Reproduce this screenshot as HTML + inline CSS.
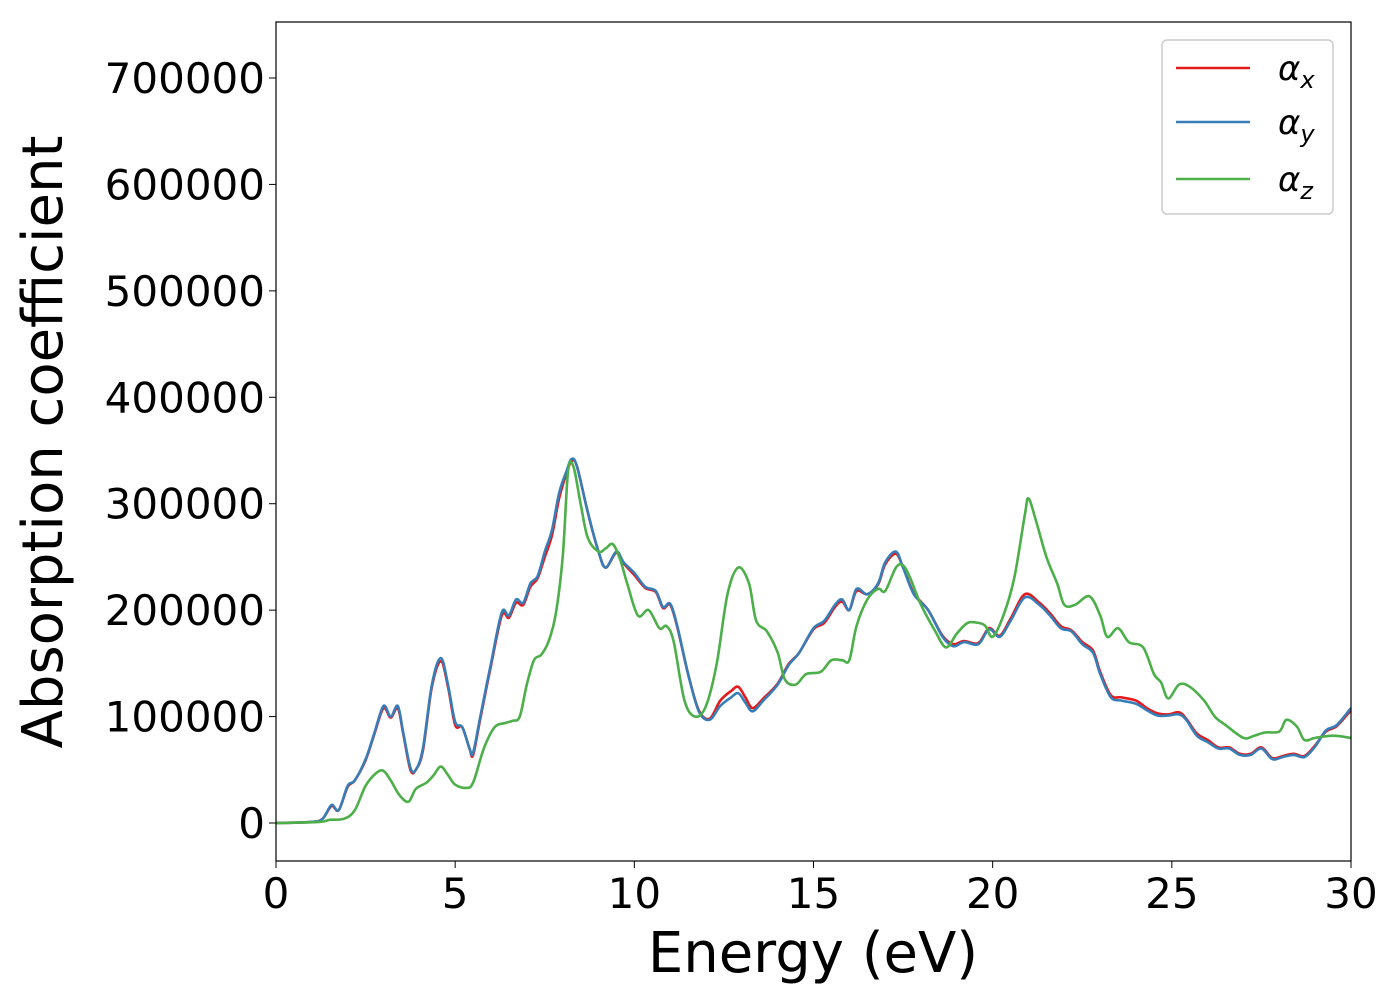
<!DOCTYPE html>
<html><head><meta charset="utf-8"><style>
body{margin:0;background:#fff}
svg text{font-family:"DejaVu Sans","Liberation Sans",sans-serif;fill:#000}
</style></head><body>
<svg width="1400" height="1000" id="chart">
<rect width="1400" height="1000" fill="#fff"/>
<g id="plot"></g>
<rect x="276" y="22" width="1075" height="839" fill="none" stroke="#000" stroke-width="1.2"/>
<g id="xt"></g><g id="yt"></g>
<text x="813" y="972" font-size="56" text-anchor="middle">Energy (eV)</text>
<text transform="translate(62,442) rotate(-90)" font-size="56" text-anchor="middle">Absorption coefficient</text>
<g>
<rect x="1162" y="40" width="171" height="174" rx="5" fill="#fff" stroke="#ccc" stroke-width="1.5"/>
<line x1="1176" y1="68" x2="1250" y2="68" stroke="#e41a1c" stroke-width="2.5"/>
<text x="1278" y="80" font-size="34" font-style="italic">α<tspan font-size="24" dy="8">x</tspan></text>
<line x1="1176" y1="122" x2="1250" y2="122" stroke="#377eb8" stroke-width="2.5"/>
<text x="1278" y="134" font-size="34" font-style="italic">α<tspan font-size="24" dy="8">y</tspan></text>
<line x1="1176" y1="179" x2="1250" y2="179" stroke="#4daf4a" stroke-width="2.5"/>
<text x="1278" y="191" font-size="34" font-style="italic">α<tspan font-size="24" dy="8">z</tspan></text>
</g>
</svg>
<script>
const xTicks=[0,5,10,15,20,25,30];
const yTicks=[0,100000,200000,300000,400000,500000,600000,700000];
const eY=[0,1.0,1.3,1.55,1.75,2.0,2.2,2.5,2.75,3.0,3.2,3.4,3.55,3.75,3.9,4.1,4.35,4.6,4.8,5.0,5.2,5.4,5.5,5.7,6.0,6.3,6.5,6.7,6.9,7.1,7.3,7.5,7.7,7.9,8.1,8.25,8.4,8.7,9.0,9.2,9.5,9.7,10.0,10.3,10.6,10.8,11.0,11.2,11.5,11.8,12.1,12.4,12.7,12.9,13.1,13.3,13.6,14.0,14.3,14.6,15.0,15.3,15.6,15.8,16.0,16.2,16.5,16.8,17.0,17.3,17.5,17.8,18.2,18.6,18.9,19.2,19.6,19.9,20.2,20.5,20.9,21.3,21.6,21.9,22.2,22.5,22.8,23.0,23.3,23.6,24.0,24.3,24.6,24.9,25.2,25.4,25.7,26.0,26.3,26.6,26.9,27.2,27.5,27.8,28.1,28.4,28.7,29.0,29.3,29.6,30];
const alphaY=[0,1,4,17,12,35,40,60,85,110,100,110,85,52,50,70,130,155,130,95,90,70,66,100,150,198,195,210,207,225,232,255,275,310,330,342,335,292,255,240,255,245,235,222,218,203,206,185,140,105,97,110,118,122,113,105,115,130,148,160,183,190,205,210,200,220,215,225,245,255,240,215,200,175,166,170,168,182,175,190,212,205,195,183,180,168,160,140,118,115,112,106,101,101,102,97,82,76,70,70,64,64,70,60,62,64,62,72,87,92,108];
const alphaX=[0,1,4,16,12,34,40,59,84,108,99,108,84,50,50,68,128,152,128,92,90,70,64,98,148,195,193,207,205,222,230,250,270,305,328,340,335,292,255,240,254,244,233,221,217,202,205,184,140,106,98,115,124,128,118,108,117,131,149,160,182,188,203,208,200,218,215,224,243,253,240,216,200,176,168,171,169,183,176,192,215,207,197,185,181,170,162,142,120,118,115,108,103,102,104,98,84,78,71,71,65,65,71,61,63,65,63,73,86,91,106];
const eZ=[0,1.2,1.5,1.9,2.2,2.5,2.8,3.0,3.2,3.45,3.7,3.9,4.2,4.4,4.6,4.8,5.0,5.3,5.5,5.8,6.1,6.4,6.6,6.8,7.0,7.2,7.4,7.6,7.8,8.0,8.15,8.3,8.5,8.7,9.0,9.2,9.4,9.6,9.8,10.1,10.4,10.7,10.9,11.1,11.4,11.7,12.0,12.3,12.6,12.9,13.2,13.4,13.7,14.0,14.2,14.5,14.8,15.2,15.5,15.8,16.0,16.2,16.5,16.8,17.0,17.3,17.5,17.7,18.0,18.4,18.7,19.0,19.3,19.6,19.8,20.0,20.3,20.6,20.9,21.0,21.2,21.5,21.8,22.0,22.3,22.7,23.0,23.2,23.5,23.8,24.2,24.5,24.7,24.9,25.2,25.5,25.9,26.2,26.5,27.0,27.3,27.6,28.0,28.2,28.5,28.7,29.0,29.5,30];
const alphaZ=[0,1,3,4,12,35,47,49,40,26,20,32,38,45,53,45,36,33,38,70,90,94,96,100,130,153,158,170,195,250,330,335,300,268,255,258,262,248,225,195,200,183,185,170,115,100,110,150,215,240,225,190,180,160,135,130,140,142,153,153,153,185,210,220,218,240,242,230,205,180,165,178,188,188,185,175,195,230,290,305,285,250,225,205,205,213,195,175,183,170,165,140,132,117,130,128,115,100,92,80,82,85,86,97,90,78,80,82,80];
const X=e=>276+e*1075/30;
const Y=v=>823-v*1000*745/700000;
const NS="http://www.w3.org/2000/svg";
function pathD(xs,ys){
  const p=xs.map((e,i)=>[X(e),Y(ys[i])]);
  let d="M"+p[0][0].toFixed(1)+","+p[0][1].toFixed(1);
  for(let i=0;i<p.length-1;i++){
    const p0=p[Math.max(0,i-1)],p1=p[i],p2=p[i+1],p3=p[Math.min(p.length-1,i+2)];
    const c1=[p1[0]+(p2[0]-p0[0])/6,p1[1]+(p2[1]-p0[1])/6];
    const c2=[p2[0]-(p3[0]-p1[0])/6,p2[1]-(p3[1]-p1[1])/6];
    d+="C"+c1[0].toFixed(1)+","+c1[1].toFixed(1)+" "+c2[0].toFixed(1)+","+c2[1].toFixed(1)+" "+p2[0].toFixed(1)+","+p2[1].toFixed(1);
  }
  return d;
}
const plot=document.getElementById("plot");
function addLine(xs,ys,color,name){
  const el=document.createElementNS(NS,"path");
  el.setAttribute("d",pathD(xs,ys));
  el.setAttribute("fill","none");
  el.setAttribute("stroke",color);
  el.setAttribute("stroke-width","2.6");
  
  
  plot.appendChild(el);
}
addLine(eY,alphaX,"#e41a1c","series-alpha-x");
addLine(eY,alphaY,"#377eb8","series-alpha-y");
addLine(eZ,alphaZ,"#4daf4a","series-alpha-z");
const xt=document.getElementById("xt");
xTicks.forEach(t=>{
  const l=document.createElementNS(NS,"line");
  l.setAttribute("x1",X(t));l.setAttribute("x2",X(t));l.setAttribute("y1",861);l.setAttribute("y2",868);l.setAttribute("stroke","#000");
  
  
  xt.appendChild(l);
  const tx=document.createElementNS(NS,"text");
  tx.setAttribute("x",X(t));tx.setAttribute("y",908);tx.setAttribute("font-size","42");tx.setAttribute("text-anchor","middle");
  tx.textContent=t;
  
  
  xt.appendChild(tx);
});
const yt=document.getElementById("yt");
yTicks.forEach(t=>{
  const l=document.createElementNS(NS,"line");
  l.setAttribute("x1",269);l.setAttribute("x2",276);l.setAttribute("y1",Y(t/1000));l.setAttribute("y2",Y(t/1000));l.setAttribute("stroke","#000");
  
  
  yt.appendChild(l);
  const tx=document.createElementNS(NS,"text");
  tx.setAttribute("x",265);tx.setAttribute("y",Y(t/1000)+15);tx.setAttribute("font-size","42");tx.setAttribute("text-anchor","end");
  tx.textContent=t;
  
  
  yt.appendChild(tx);
});
</script>
</body></html>
